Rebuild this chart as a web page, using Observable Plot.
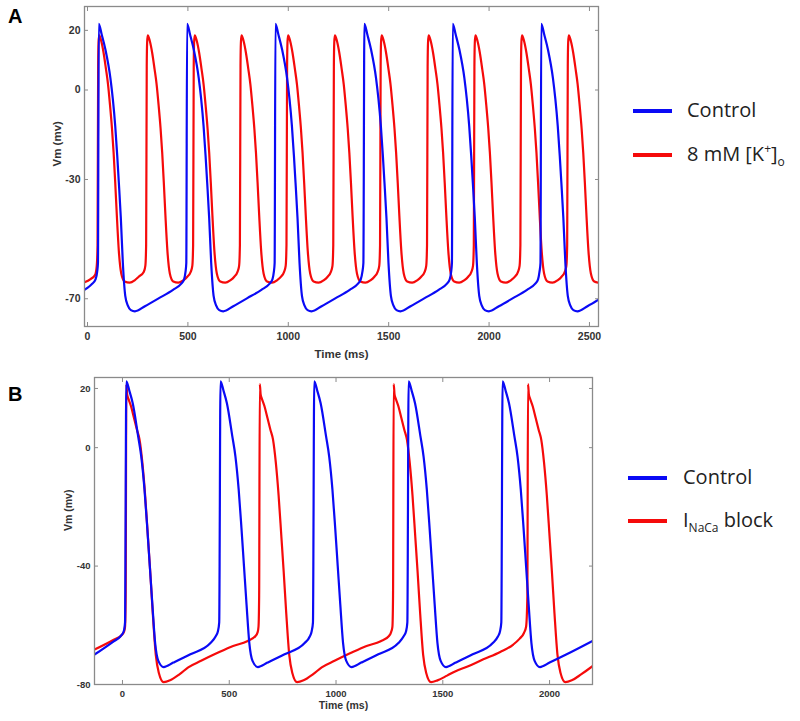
<!DOCTYPE html>
<html><head><meta charset="utf-8">
<script src="https://cdn.jsdelivr.net/npm/d3@7"></script>
<script src="https://cdn.jsdelivr.net/npm/@observablehq/plot@0.6"></script>
<style>
body{margin:0;background:#fff;}
#wrap{position:relative;width:800px;height:721px;overflow:hidden;background:#fff;}
.panel{position:absolute;left:0;}
.letter{position:absolute;font:bold 20px "Liberation Sans",Arial,sans-serif;color:#000;line-height:20px;}
.sw{position:absolute;width:39px;height:4px;}
.lt{position:absolute;font-family:"Open Sans",sans-serif;font-size:20px;line-height:24px;color:#222;white-space:nowrap;}
.lt sub,.lt sup{font-size:12px;line-height:0;}
</style></head>
<body><div id="wrap"></div>
<script>
// ---------- data (time in ms, membrane potential in mV) ----------
const aXTicks = [0, 500, 1000, 1500, 2000, 2500];
const aYTicks = [20, 0, -30, -70];
const bXTicks = [0, 500, 1000, 1500, 2000];
const bYTicks = [20, 0, -40, -80];
const aLegend = ["Control", "8 mM [K+]o"];
const bLegend = ["Control", "INaCa block"];

const aControl = [
[-15,-67],[10,-65.8],[23,-65],[40,-63.5],[48,-61],[52,-58],
[56,22.2],[71,18.5],[90,13.3],[114,4],[126,-3],[138,-12],[148,-22],[156,-31],[166,-43],[176,-58],[188,-69],[201,-72.3],[216,-73.8],[236,-74.2],[286,-72.5],[356,-69.8],[426,-67],[466,-65],[481,-63.5],[488,-61],[492,-58],
[496,22.2],[511,18.5],[530,13.3],[554,4],[566,-3],[578,-12],[588,-22],[596,-31],[606,-43],[616,-58],[628,-69],[641,-72.3],[656,-73.8],[676,-74.2],[726,-72.5],[796,-69.8],[866,-67],[906,-65],[921,-63.5],[928,-61],[932,-58],
[936,22.2],[951,18.5],[970,13.3],[994,4],[1006,-3],[1018,-12],[1028,-22],[1036,-31],[1046,-43],[1056,-58],[1068,-69],[1081,-72.3],[1096,-73.8],[1116,-74.2],[1166,-72.5],[1236,-69.8],[1306,-67],[1346,-65],[1361,-63.5],[1369,-61],[1374,-58],
[1379,22.2],[1394,18.5],[1413,13.3],[1437,4],[1449,-3],[1461,-12],[1471,-22],[1479,-31],[1489,-43],[1499,-58],[1511,-69],[1524,-72.3],[1539,-73.8],[1559,-74.2],[1609,-72.5],[1679,-69.8],[1749,-67],[1789,-65],[1804,-63.5],[1811,-61],[1815,-58],
[1819,22.2],[1834,18.5],[1853,13.3],[1877,4],[1889,-3],[1901,-12],[1911,-22],[1919,-31],[1929,-43],[1939,-58],[1951,-69],[1964,-72.3],[1979,-73.8],[1999,-74.2],[2049,-72.5],[2119,-69.8],[2189,-67],[2229,-65],[2244,-63.5],[2251,-61],[2256,-58],
[2260,22.2],[2275,18.5],[2294,13.3],[2318,4],[2330,-3],[2342,-12],[2352,-22],[2360,-31],[2370,-43],[2380,-58],[2392,-69],[2405,-72.3],[2420,-73.8],[2440,-74.2],[2490,-72.5],[2545,-70.3]
];

const aHighK = [
[-15,-64.5],[15,-63.4],[38,-62],[46,-59],
[50,-52],[53,8],[55,16],[58,18.3],[68,16.5],[80,12.5],[92,7],[102,2],[112,-5],[122,-13],[130,-21],[138,-31],[146,-42],[156,-54],[168,-61.5],[185,-64.2],[210,-64.6],[235,-63.8],[255,-62.6],[280,-61],[288,-59],
[292,-52],[295,8],[297,16],[300,18.3],[310,16.5],[322,12.5],[334,7],[344,2],[354,-5],[364,-13],[372,-21],[380,-31],[388,-42],[398,-54],[410,-61.5],[427,-64.2],[452,-64.6],[477,-63.8],[497,-62.6],[514,-61],[522,-59],
[526,-52],[529,8],[531,16],[534,18.3],[544,16.5],[556,12.5],[568,7],[578,2],[588,-5],[598,-13],[606,-21],[614,-31],[622,-42],[632,-54],[644,-61.5],[661,-64.2],[686,-64.6],[711,-63.8],[731,-62.6],[747,-61],[755,-59],
[759,-52],[762,8],[764,16],[767,18.3],[777,16.5],[789,12.5],[801,7],[811,2],[821,-5],[831,-13],[839,-21],[847,-31],[855,-42],[865,-54],[877,-61.5],[894,-64.2],[919,-64.6],[944,-63.8],[964,-62.6],[979,-61],[987,-59],
[991,-52],[994,8],[996,16],[999,18.3],[1009,16.5],[1021,12.5],[1033,7],[1043,2],[1053,-5],[1063,-13],[1071,-21],[1079,-31],[1087,-42],[1097,-54],[1109,-61.5],[1126,-64.2],[1151,-64.6],[1176,-63.8],[1196,-62.6],[1212,-61],[1220,-59],
[1224,-52],[1227,8],[1229,16],[1232,18.3],[1242,16.5],[1254,12.5],[1266,7],[1276,2],[1286,-5],[1296,-13],[1304,-21],[1312,-31],[1320,-42],[1330,-54],[1342,-61.5],[1359,-64.2],[1384,-64.6],[1409,-63.8],[1429,-62.6],[1445,-61],[1453,-59],
[1457,-52],[1460,8],[1462,16],[1465,18.3],[1475,16.5],[1487,12.5],[1499,7],[1509,2],[1519,-5],[1529,-13],[1537,-21],[1545,-31],[1553,-42],[1563,-54],[1575,-61.5],[1592,-64.2],[1617,-64.6],[1642,-63.8],[1662,-62.6],[1679,-61],[1687,-59],
[1691,-52],[1694,8],[1696,16],[1699,18.3],[1709,16.5],[1721,12.5],[1733,7],[1743,2],[1753,-5],[1763,-13],[1771,-21],[1779,-31],[1787,-42],[1797,-54],[1809,-61.5],[1826,-64.2],[1851,-64.6],[1876,-63.8],[1896,-62.6],[1912,-61],[1920,-59],
[1924,-52],[1927,8],[1929,16],[1932,18.3],[1942,16.5],[1954,12.5],[1966,7],[1976,2],[1986,-5],[1996,-13],[2004,-21],[2012,-31],[2020,-42],[2030,-54],[2042,-61.5],[2059,-64.2],[2084,-64.6],[2109,-63.8],[2129,-62.6],[2144,-61],[2152,-59],
[2156,-52],[2159,8],[2161,16],[2164,18.3],[2174,16.5],[2186,12.5],[2198,7],[2208,2],[2218,-5],[2228,-13],[2236,-21],[2244,-31],[2252,-42],[2262,-54],[2274,-61.5],[2291,-64.2],[2316,-64.6],[2341,-63.8],[2361,-62.6],[2377,-61],[2385,-59],
[2389,-52],[2392,8],[2394,16],[2397,18.3],[2407,16.5],[2419,12.5],[2431,7],[2441,2],[2451,-5],[2461,-13],[2469,-21],[2477,-31],[2485,-42],[2495,-54],[2507,-61.5],[2524,-64.2],[2545,-64.6]
];

const bControl = [
[-131,-69.9],[-41,-65.4],[-9,-63.7],[6,-62],[12,-59],
[18,22.4],[33,19],[48,15],[73,4],[88,-3],[103,-14],[116,-27],[128,-40],[140,-53],[153,-66],[168,-72],[193,-74.1],[238,-72.6],[318,-69.8],[412,-66],[436,-63.8],[447,-62],[453,-59],
[459,22.4],[474,19],[489,15],[514,4],[529,-3],[544,-14],[557,-27],[569,-40],[581,-53],[594,-66],[609,-72],[634,-74.1],[679,-72.6],[759,-69.8],[853,-66],[877,-63.8],[886,-62],[892,-59],
[898,22.4],[913,19],[928,15],[953,4],[968,-3],[983,-14],[996,-27],[1008,-40],[1020,-53],[1033,-66],[1048,-72],[1073,-74.1],[1118,-72.6],[1198,-69.8],[1292,-66],[1316,-63.8],[1328,-62],[1334,-59],
[1340,22.4],[1355,19],[1370,15],[1395,4],[1410,-3],[1425,-14],[1438,-27],[1450,-40],[1462,-53],[1475,-66],[1490,-72],[1515,-74.1],[1560,-72.6],[1640,-69.8],[1734,-66],[1758,-63.8],[1768,-62],[1774,-59],
[1780,22.4],[1795,19],[1810,15],[1835,4],[1850,-3],[1865,-14],[1878,-27],[1890,-40],[1902,-53],[1915,-66],[1930,-72],[1955,-74.1],[2000,-72.6],[2080,-69.8],[2201,-65.3]
];

const bNaCaBlock = [
[-131,-68.2],[-41,-64.9],[-2,-63.2],[8,-62],[12,-60.5],[15,-50],
[18,21.5],[22,18],[28,16.5],[40,14],[54,10],[68,6],[80,2.7],[93,-5],[106,-16],[119,-30],[130,-42],[142,-56],[156,-70],[170,-76],[193,-79.2],[223,-78.6],[268,-76.5],[308,-74.2],[368,-72],[443,-69.4],[518,-67],[584,-65.4],[623,-63.6],[633,-62.3],[637,-60.5],[640,-50],
[643,21.5],[647,18],[653,16.5],[665,14],[679,10],[693,6],[705,2.7],[718,-5],[731,-16],[744,-30],[755,-42],[767,-56],[781,-70],[795,-76],[818,-79.2],[848,-78.6],[893,-76.5],[933,-74.2],[993,-72],[1068,-69.4],[1143,-67],[1209,-65.4],[1248,-63.6],[1258,-62.3],[1264,-60.5],[1267,-50],
[1270,21.5],[1274,18],[1280,16.5],[1292,14],[1306,10],[1320,6],[1332,2.7],[1345,-5],[1358,-16],[1371,-30],[1382,-42],[1394,-56],[1408,-70],[1422,-76],[1445,-79.2],[1475,-78.6],[1520,-77],[1560,-75.5],[1613,-74],[1690,-71.5],[1769,-69],[1830,-66.5],[1860,-64.5],[1880,-62.6],[1890,-60.5],[1896,-50],
[1899,21.5],[1903,18],[1909,16.5],[1921,14],[1935,10],[1949,6],[1961,2.7],[1974,-5],[1987,-16],[2000,-30],[2011,-42],[2023,-56],[2037,-70],[2051,-76],[2074,-79.2],[2104,-78.6],[2149,-76.5],[2201,-73.8]
];

const BLUE = "#0a0af5", RED = "#f50a0a", AXIS = "#8a8a8a", TXT = "#333";
const rows = arr => arr.map(([t, v]) => ({t, v}));
const plain = d => String(d);

function panel(o) {
  return Plot.plot({
    width: 800, height: o.height,
    marginTop: o.mt, marginBottom: o.mb, marginLeft: o.ml, marginRight: o.mr,
    x: {domain: o.xDomain},
    y: {domain: o.yDomain},
    style: {fontFamily: '"Liberation Sans", Arial, sans-serif', fontSize: o.fs + "px", color: TXT, background: "white", overflow: "visible"},
    marks: [
      Plot.line(rows(o.red), {x: "t", y: "v", stroke: RED, strokeWidth: 2.2, curve: "monotone-x", clip: true}),
      Plot.line(rows(o.blue), {x: "t", y: "v", stroke: BLUE, strokeWidth: 2.2, curve: "monotone-x", clip: true}),
      Plot.frame({stroke: AXIS, strokeWidth: 1.3}),
      Plot.axisX(o.xTicks, {anchor: "bottom", tickSize: -4, tickPadding: 10, stroke: AXIS, fill: TXT, fontWeight: "bold", tickFormat: plain, label: null}),
      Plot.axisX(o.xTicks, {anchor: "top", tickSize: -4, stroke: AXIS, fill: "none", label: null}),
      Plot.axisY(o.yTicks, {anchor: "left", tickSize: -4, tickPadding: 8, stroke: AXIS, fill: TXT, fontWeight: "bold", tickFormat: plain, label: null}),
      Plot.axisY(o.yTicks, {anchor: "right", tickSize: -4, stroke: AXIS, fill: "none", label: null}),
      Plot.text(["Time (ms)"], {frameAnchor: "bottom", dy: o.xLabelDy, text: d => d, fontWeight: "bold", fontSize: o.fs + 1, fill: TXT}),
      Plot.text(["Vm (mv)"], {frameAnchor: "left", dx: o.yLabelDx, rotate: -90, text: d => d, fontWeight: "bold", fontSize: o.fs + 1, fill: TXT})
    ]
  });
}

const wrap = document.getElementById("wrap");

const pa = panel({height: 371, mt: 6, mb: 45, ml: 84, mr: 202, xDomain: [-15, 2545], yDomain: [-79.3, 28],
  xTicks: aXTicks, yTicks: aYTicks, red: aHighK, blue: aControl, fs: 10.5, xLabelDy: 31, yLabelDx: -27});
pa.classList.add("panel"); pa.style.top = "0px";
wrap.appendChild(pa);

const pb = panel({height: 350, mt: 6, mb: 37, ml: 94, mr: 208, xDomain: [-131, 2201], yDomain: [-80, 23.7],
  xTicks: bXTicks, yTicks: bYTicks, red: bNaCaBlock, blue: bControl, fs: 9.5, xLabelDy: 24, yLabelDx: -26});
pb.classList.add("panel"); pb.style.top = "371px";
wrap.appendChild(pb);

function addDiv(cls, css, html) {
  const d = document.createElement("div");
  d.className = cls; d.style.cssText = css; d.innerHTML = html; wrap.appendChild(d); return d;
}
addDiv("letter", "left:8px;top:6px;", "A");
addDiv("letter", "left:8px;top:384px;", "B");

function legendItem(x0, xt, yc, color, html) {
  addDiv("sw", `left:${x0}px;top:${yc - 2}px;background:${color};`, "");
  addDiv("lt", `left:${xt}px;top:${yc - 13}px;`, html);
}
legendItem(633, 687, 111, BLUE, aLegend[0]);
legendItem(633, 687, 155, RED, "8 mM [K<sup>+</sup>]<sub>o</sub>");
legendItem(628, 683, 478, BLUE, bLegend[0]);
legendItem(628, 683, 521, RED, "I<sub>NaCa</sub> block");
</script></body></html>
